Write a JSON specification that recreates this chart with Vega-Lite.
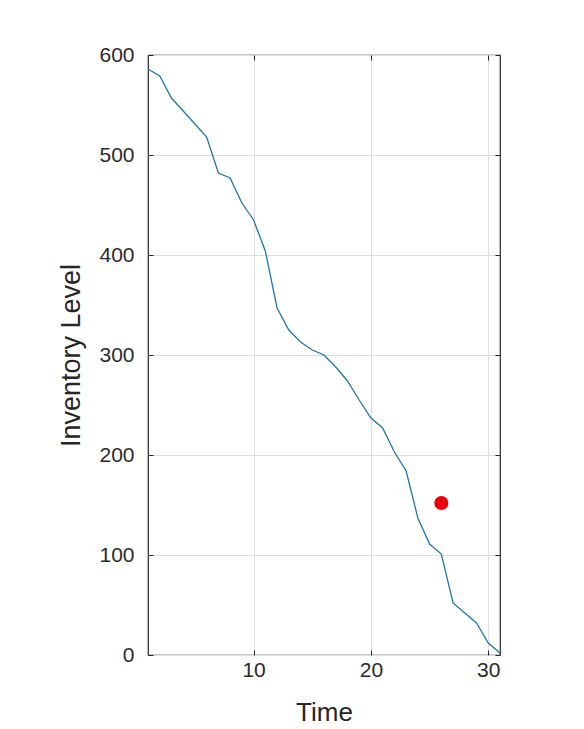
{
  "$schema": "https://vega.github.io/schema/vega-lite/v6.json",
  "width": 352,
  "height": 600,
  "autosize": {"type": "none"},
  "padding": {"left": 148, "top": 55, "right": 84, "bottom": 74},
  "background": "white",
  "config": {
    "font": "Liberation Sans",
    "view": {"stroke": "#262626", "strokeWidth": 1.2},
    "axis": {
      "domain": false,
      "grid": true,
      "gridColor": "#dedede",
      "gridWidth": 1,
      "tickColor": "#262626",
      "tickSize": -5,
      "tickWidth": 1,
      "labelColor": "#2b2b2b",
      "labelFont": "Liberation Sans",
      "labelFontSize": 21,
      "titleColor": "#262626",
      "titleFont": "Liberation Sans",
      "titleFontSize": 26,
      "titleFontWeight": "normal"
    }
  },
  "datasets": {
    "inv": [
      {"t": 1, "v": 586}, {"t": 2, "v": 579}, {"t": 3, "v": 557}, {"t": 4, "v": 544},
      {"t": 5, "v": 531}, {"t": 6, "v": 518}, {"t": 7, "v": 482}, {"t": 8, "v": 477},
      {"t": 9, "v": 452}, {"t": 10, "v": 435}, {"t": 11, "v": 404}, {"t": 12, "v": 347},
      {"t": 13, "v": 325}, {"t": 14, "v": 313}, {"t": 15, "v": 305}, {"t": 16, "v": 300},
      {"t": 17, "v": 288}, {"t": 18, "v": 274}, {"t": 19, "v": 255}, {"t": 20, "v": 237},
      {"t": 21, "v": 227}, {"t": 22, "v": 203}, {"t": 23, "v": 184}, {"t": 24, "v": 137},
      {"t": 25, "v": 111}, {"t": 26, "v": 101}, {"t": 27, "v": 52}, {"t": 28, "v": 42},
      {"t": 29, "v": 32}, {"t": 30, "v": 12}, {"t": 31, "v": 2}
    ],
    "pt": [{"t": 26, "v": 152}]
  },
  "layer": [
    {
      "data": {"name": "inv"},
      "mark": {"type": "line", "color": "#1f77a8", "strokeWidth": 1.3},
      "encoding": {
        "x": {
          "field": "t", "type": "quantitative",
          "scale": {"domain": [1, 31], "nice": false, "zero": false},
          "axis": {"values": [10, 20, 30], "title": "Time", "labelPadding": 9, "titlePadding": 19, "orient": "bottom"}
        },
        "y": {
          "field": "v", "type": "quantitative",
          "scale": {"domain": [0, 600], "nice": false, "zero": false},
          "axis": {"values": [0, 100, 200, 300, 400, 500, 600], "title": "Inventory Level", "titleFontSize": 27, "labelPadding": 19, "titlePadding": 13, "orient": "left"}
        }
      }
    },
    {
      "data": {"name": "pt"},
      "mark": {"type": "circle", "color": "#e8000b", "size": 200, "opacity": 1},
      "encoding": {
        "x": {
          "field": "t", "type": "quantitative",
          "axis": {"orient": "top", "values": [10, 20, 30], "labels": false, "grid": false, "title": null}
        },
        "y": {
          "field": "v", "type": "quantitative",
          "axis": {"orient": "right", "values": [0, 100, 200, 300, 400, 500, 600], "labels": false, "grid": false, "title": null}
        }
      }
    }
  ],
  "resolve": {"axis": {"x": "independent", "y": "independent"}}
}
